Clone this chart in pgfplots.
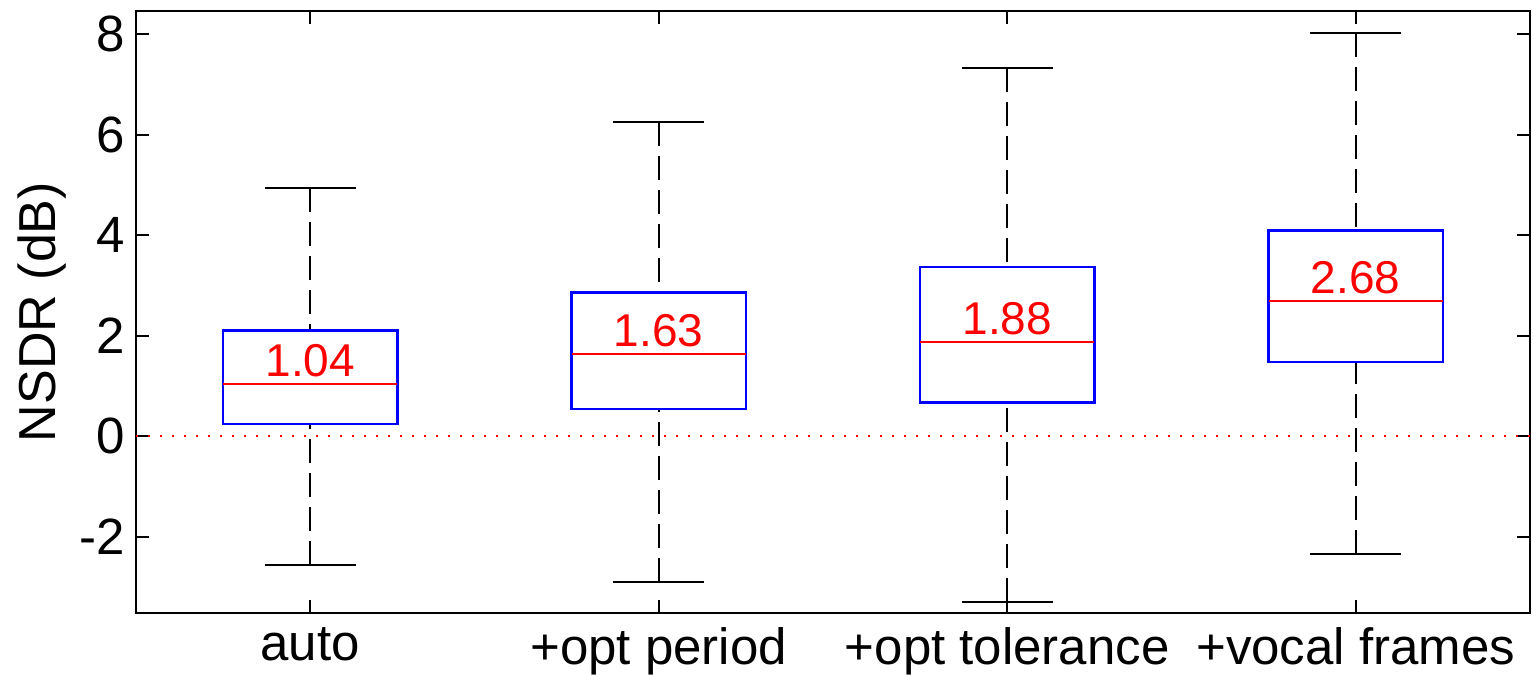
\documentclass[border=0pt]{standalone}
\usepackage{fontspec}
\setmainfont{Liberation Sans}
\usepackage{pgfplots}
\pgfplotsset{compat=1.18}
\usepgfplotslibrary{statistics}
\definecolor{mblue}{rgb}{0,0,1}
\definecolor{mred}{rgb}{1,0,0}
\begin{document}
\begin{tikzpicture}
\begin{axis}[
  scale only axis,
  width=697pt, height=301pt,
  xmin=0.5, xmax=4.5, ymin=-3.52, ymax=8.46,
  xtick={1,2,3,4},
  xticklabels={auto,+opt period,+opt tolerance,+vocal frames},
  ytick={-2,0,2,4,6,8},
  yticklabels={-2,0,2,4,6,8},
  tick align=inside,
  major tick length=6.5pt,
  tick style={black, line width=1pt},
  axis line style={line width=1.2pt},
  ticklabel style={font=\fontsize{25.5}{30}\selectfont},
  xticklabel style={yshift=-3.5pt},
  yticklabel style={xshift=-2pt},
  ylabel={NSDR (dB)},
  ylabel style={font=\fontsize{26}{30}\selectfont},
  clip=false,
  boxplot/draw direction=y,
  boxplot/box extend=0.5,
  boxplot/whisker extend=0.26,
  boxplot/draw/box/.code={%
    \draw[mblue, line width=1.2pt]
      (boxplot box cs:\pgfplotsboxplotvalue{lower quartile},0) rectangle
      (boxplot box cs:\pgfplotsboxplotvalue{upper quartile},1);},
  boxplot/draw/median/.code={%
    \draw[mred, line width=1pt]
      (boxplot box cs:\pgfplotsboxplotvalue{median},0) --
      (boxplot box cs:\pgfplotsboxplotvalue{median},1)
      node[midway, anchor=south, inner sep=0pt, yshift=3pt, text=mred,
           font=\fontsize{23}{28}\selectfont]
      {\pgfmathprintnumber[fixed,precision=2,fixed zerofill,assume math mode=true]{\pgfplotsboxplotvalue{median}}};},
  boxplot/draw/lower whisker/.code={%
    \draw[black, line width=1.2pt, dash pattern=on 12pt off 5pt]
      (boxplot cs:\pgfplotsboxplotvalue{lower whisker}) --
      (boxplot cs:\pgfplotsboxplotvalue{lower quartile});
    \draw[black, line width=1.2pt]
      (boxplot whisker cs:\pgfplotsboxplotvalue{lower whisker},0) --
      (boxplot whisker cs:\pgfplotsboxplotvalue{lower whisker},1);},
  boxplot/draw/upper whisker/.code={%
    \draw[black, line width=1.2pt, dash pattern=on 12pt off 5pt]
      (boxplot cs:\pgfplotsboxplotvalue{upper whisker}) --
      (boxplot cs:\pgfplotsboxplotvalue{upper quartile});
    \draw[black, line width=1.2pt]
      (boxplot whisker cs:\pgfplotsboxplotvalue{upper whisker},0) --
      (boxplot whisker cs:\pgfplotsboxplotvalue{upper whisker},1);},
]
\addplot[mred, line width=1pt, dash pattern=on 1pt off 5pt] coordinates {(0.5,0) (4.5,0)};
\addplot[boxplot prepared={draw position=1, lower whisker=-2.57, lower quartile=0.24, median=1.04, upper quartile=2.10, upper whisker=4.94}] coordinates {};
\addplot[boxplot prepared={draw position=2, lower whisker=-2.90, lower quartile=0.54, median=1.63, upper quartile=2.86, upper whisker=6.25}] coordinates {};
\addplot[boxplot prepared={draw position=3, lower whisker=-3.30, lower quartile=0.67, median=1.88, upper quartile=3.37, upper whisker=7.32}] coordinates {};
\addplot[boxplot prepared={draw position=4, lower whisker=-2.34, lower quartile=1.47, median=2.68, upper quartile=4.09, upper whisker=8.02}] coordinates {};
\end{axis}
\pgfresetboundingbox
\path[use as bounding box] ([xshift=-68pt,yshift=-30.65pt]current axis.south west) rectangle ([xshift=1pt,yshift=5.5pt]current axis.north east);
\end{tikzpicture}
\end{document}
